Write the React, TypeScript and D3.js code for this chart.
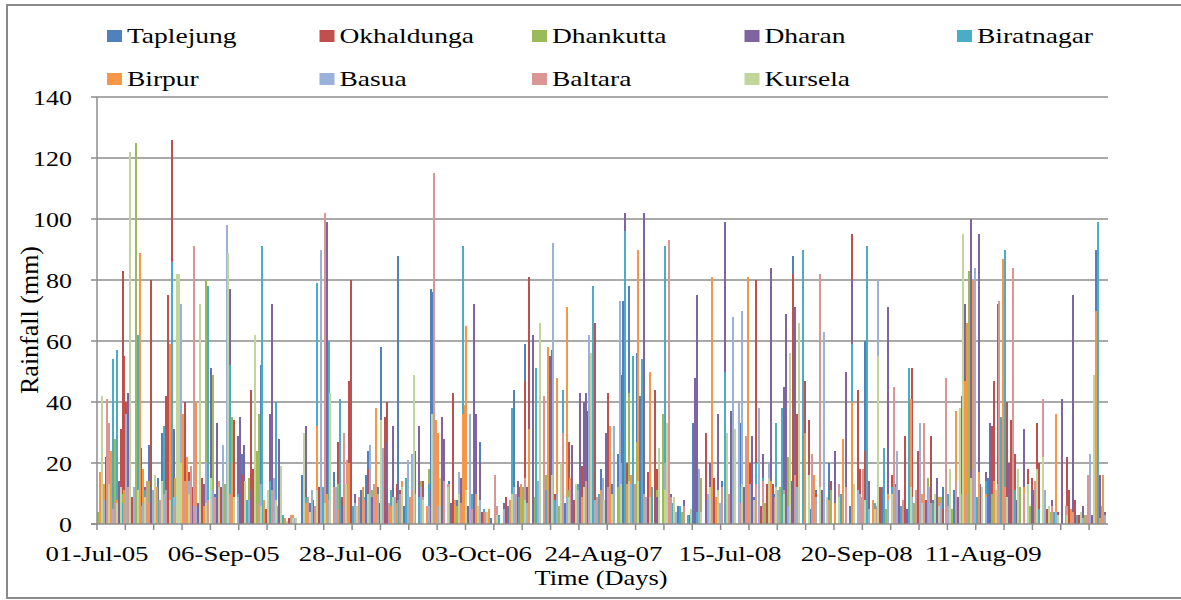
import * as d3 from 'd3';

// monsoon window used in the source: 1 Jul - 15 Oct of each year
const seasonYears = [2005, 2006, 2007, 2008, 2009];
const seriesNames = ['Taplejung', 'Okhaldunga', 'Dhankutta', 'Dharan', 'Biratnagar', 'Birpur', 'Basua', 'Baltara', 'Kursela'];
const seriesColors = ['#4F81BD', '#C0504D', '#9BBB59', '#8064A2', '#4BACC6', '#F79646', '#9AB1DA', '#D99694', '#C2D69B'];
const yTicks = [0, 20, 40, 60, 80, 100, 120, 140];
const labelEvery = 67;
const tickEvery = 15;

// [day index, rainfall mm] - days not listed are 0
const taplejung = [[3,5],[11,9],[20,7],[27,26],[29,6],[34,30],[40,13],[44,9],[48,8],[57,73],[62,10],[69,12],[76,23],[85,21],[86,52],[93,14],[94,27],
  [108,16],[112,7],[125,17],[128,33],[130,7],[137,5],[142,16],[143,24],[148,12],[150,58],[155,10],[159,88],[164,19],[168,24],[176,77],[177,76],[183,23],[190,8],[202,27],
  [220,44],[226,59],[230,36],[236,25],[243,10],[250,12],[255,9],[260,8],[266,18],[269,6],[275,23],[278,73],[281,78],[285,56],[287,42],[292,15],[299,14],[307,6],[315,33],[317,39],
  [330,14],[333,18],[340,33],[343,13],[347,9],[352,20],[358,10],[362,16],[368,88],[374,22],[380,11],[387,20],[392,4],[406,60],[415,12],[422,13],
  [431,18],[442,8],[453,11],[457,42],[461,30],[466,25],[471,15],[479,20],[496,10],[505,4],[510,6],[528,90],
  [1,4],[6,8],[14,12],[18,3],[24,6],[32,15],[38,5],[51,4],[55,11],[60,7],[66,3],[72,9],[80,6],[89,4],[98,2],[103,1],[114,5],[119,9],[133,6],[139,11],
  [146,4],[152,8],[162,6],[171,10],[180,5],[186,14],[195,7],[205,3],[208,2],[217,6],[223,12],[233,9],[240,16],[247,7],[258,11],[263,5],[272,13],[289,7],
  [295,10],[303,4],[312,3],[326,8],[336,6],[350,12],[355,4],[365,7],[371,15],[377,5],[384,9],[398,6],[402,3],[410,7],[425,5],[435,9],[438,4],[447,12],
  [450,3],[462,7],[475,11],[484,5],[490,9],[500,4],[515,2],[520,3],[533,2]];
const okhaldunga = [[5,6],[12,31],[13,83],[14,55],[15,40],[22,56],[23,25],[28,80],[30,9],[36,42],[37,75],[39,126],[46,40],[48,17],[55,15],[65,12],[72,34],[81,44],[82,18],[87,24],[89,5],
  [117,12],[127,27],[133,47],[134,80],[146,10],[152,35],[153,40],[158,13],[163,9],[172,14],[188,43],[193,24],[198,8],[210,6],
  [222,11],[226,47],[228,81],[230,29],[238,58],[249,27],[259,37],[263,66],[270,43],[273,12],[280,20],[283,36],[289,47],[291,17],[295,44],[296,18],[305,5],
  [322,30],[326,15],[337,12],[343,17],[348,80],[354,13],[360,9],[366,30],[368,82],[370,36],[374,47],[376,34],[384,12],[394,7],[399,95],[402,44],[403,18],[406,24],[418,33],[420,16],[427,29],
  [431,51],[434,24],[441,29],[447,5],[454,16],[466,30],[473,32],[474,47],[481,40],[483,34],[485,23],[492,18],[494,15],[497,33],[498,20],[513,22],[514,11],[519,3],[521,6],
  [2,5],[8,14],[18,9],[26,11],[33,6],[42,8],[50,12],[58,20],[63,7],[68,5],[76,16],[85,9],[93,6],[101,2],[110,8],[114,4],[121,15],[129,9],[138,5],[143,18],
  [149,7],[160,11],[167,6],[179,13],[185,8],[191,5],[203,4],[216,9],[219,6],[234,14],[242,10],[252,8],[256,19],[267,7],[276,12],[286,9],[299,6],[310,3],
  [324,11],[330,7],[340,9],[345,20],[351,6],[357,13],[362,8],[380,10],[388,14],[392,5],[410,7],[414,12],[424,9],[438,8],[444,12],[450,6],[458,10],
  [462,14],[470,7],[478,11],[488,9],[502,5],[508,4],[517,8],[526,2],[531,3]];
const dhankutta = [[9,28],[17,10],[20,125],[30,5],[44,12],[52,8],[57,80],[61,49],[71,35],[84,24],[85,36],[95,6],
  [123,8],[140,6],[150,12],[167,10],[175,18],[177,35],[185,9],[194,35],
  [240,10],[253,13],[262,9],[275,12],[281,43],[285,27],[292,20],[299,36],[319,15],
  [330,10],[339,11],[350,15],[358,8],[365,22],[382,68],[410,6],[422,12],
  [439,15],[440,12],[457,10],[461,83],[470,9],[477,36],[488,12],[500,8],[527,30],
  [0,4],[5,7],[13,10],[23,6],[27,14],[36,9],[40,5],[48,11],[64,7],[67,13],[75,8],[80,15],[88,6],[92,9],[102,2],[111,5],[118,9],[127,13],[133,7],[145,11],
  [156,8],[160,5],[171,14],[181,10],[190,6],[199,9],[207,3],[218,7],[225,12],[231,9],[237,16],[244,6],[249,11],[258,15],[266,8],[270,10],[279,13],[288,9],
  [296,11],[303,6],[309,4],[323,9],[327,5],[335,14],[344,9],[353,7],[361,12],[369,10],[374,16],[378,8],[388,11],[396,6],[404,9],[417,5],[426,4],[432,7],
  [446,9],[452,5],[464,14],[473,10],[480,12],[485,7],[493,6],[504,4],[512,5],[522,3],[531,6]];
const dharan = [[4,22],[16,43],[21,43],[25,12],[40,31],[53,7],[60,51],[63,33],[66,10],[70,77],[74,29],[75,35],[77,26],[91,36],[92,72],[96,28],
  [110,32],[121,99],[123,12],[145,9],[153,27],[156,32],[161,14],[167,33],[170,32],[182,35],[183,28],[199,72],[200,36],[202,20],
  [215,7],[222,14],[224,8],[230,62],[239,55],[240,57],[251,26],[255,43],[257,40],[258,43],[260,15],[269,30],[277,49],[279,102],[289,102],[293,12],[303,10],[310,8],[316,48],[317,75],
  [324,20],[328,36],[332,99],[335,37],[339,26],[346,29],[350,10],[352,23],[356,84],[362,35],[363,45],[364,69],[369,71],[378,22],[390,24],[396,50],[399,80],[408,14],[418,71],[424,11],
  [444,15],[459,72],[462,100],[466,95],[470,17],[472,33],[476,72],[482,20],[490,31],[500,10],[505,8],[510,41],[516,75],[521,6],[530,16],
  [1,9],[7,6],[11,14],[19,8],[28,12],[33,5],[45,10],[50,6],[56,13],[68,9],[81,11],[86,7],[99,2],[104,1],[114,8],[118,14],[129,6],[136,10],[141,5],[150,13],
  [165,9],[176,11],[187,7],[192,15],[196,6],[206,4],[219,9],[227,12],[234,7],[245,10],[264,8],[273,14],[283,11],[296,9],[300,7],[313,3],[322,8],[342,12],
  [357,10],[367,14],[373,9],[383,11],[387,6],[404,9],[413,7],[428,5],[433,10],[438,7],[449,12],[455,9],[467,13],[479,10],[486,8],[495,11],[512,5],[526,3],[533,4]];
const biratnagar = [[8,54],[10,57],[21,62],[29,5],[35,32],[39,86],[49,10],[58,78],[70,52],[79,8],[87,91],[94,40],
  [116,79],[122,60],[128,41],[135,6],[150,20],[163,15],[170,9],[186,12],[193,91],
  [219,38],[232,51],[246,44],[262,78],[265,10],[279,96],[283,55],[286,24],[288,54],[300,91],[308,6],[312,3],
  [325,21],[332,50],[340,12],[348,20],[359,33],[362,38],[373,90],[387,8],[399,59],[407,91],[416,25],
  [429,51],[450,10],[460,14],[478,35],[480,90],[492,6],[529,99],[533,3],
  [2,9],[5,13],[13,7],[17,19],[25,11],[32,8],[43,15],[46,6],[54,12],[62,8],[66,17],[74,10],[83,7],[91,14],[98,3],[105,1],[110,9],[119,12],[125,7],[132,14],
  [141,9],[147,5],[155,11],[159,8],[175,13],[181,7],[198,10],[204,5],[212,3],[223,9],[228,14],[237,11],[242,8],[254,13],[270,9],[276,15],[293,12],[297,8],
  [304,7],[317,4],[328,10],[336,13],[345,9],[352,15],[366,11],[370,7],[379,13],[384,8],[393,10],[411,7],[420,12],[425,6],[437,10],[442,7],[456,12],[465,9],
  [470,14],[485,11],[490,7],[498,5],[506,4],[518,3]];
const birpur = [[1,17],[3,13],[7,24],[17,37],[22,89],[24,18],[31,12],[38,59],[45,36],[47,22],[52,40],[64,14],[71,20],[83,10],[97,5],[99,2],
  [116,32],[133,20],[138,8],[140,12],[144,26],[147,38],[155,6],[161,14],[168,10],[179,34],[180,30],[193,36],[194,39],[195,65],
  [228,31],[238,58],[243,48],[248,71],[253,8],[260,14],[271,32],[277,20],[286,90],[292,50],[303,8],[305,8],
  [325,81],[330,11],[340,6],[344,81],[352,12],[366,25],[374,30],[384,12],[394,28],[399,40],[410,8],
  [430,41],[445,9],[454,37],[459,47],[460,66],[463,80],[479,87],[490,12],[507,36],[528,70],[532,16],
  [10,8],[14,11],[27,7],[34,9],[41,15],[56,6],[60,10],[68,7],[78,13],[88,8],[93,12],[103,3],[110,7],[121,10],[127,5],[131,9],[150,11],[158,7],[165,9],
  [174,6],[185,13],[189,8],[200,10],[207,5],[218,8],[224,13],[233,6],[250,15],[256,9],[266,11],[280,13],[282,16],[297,10],[300,7],[310,5],[327,9],[336,12],
  [348,9],[356,14],[360,8],[371,11],[379,16],[390,7],[404,9],[418,10],[426,6],[436,10],[441,7],[451,12],[466,17],[470,10],[474,14],[484,9],[496,6],[503,4],
  [515,5],[524,3]];
const basua = [[15,36],[29,11],[35,10],[44,72],[57,20],[66,26],[68,98],[80,8],[93,15],
  [118,90],[126,12],[144,26],[151,25],[164,21],[166,23],[175,6],[191,17],[197,36],
  [241,92],[243,10],[260,62],[267,15],[273,32],[276,73],[300,20],
  [318,18],[336,68],[339,40],[341,70],[350,38],[355,20],[370,12],[384,63],[396,5],[413,80],[423,24],
  [435,33],[450,6],[464,84],[496,14],[501,11],[525,23],[533,3],
  [3,8],[8,5],[19,12],[24,7],[40,9],[48,14],[52,6],[61,11],[74,9],[86,13],[97,4],[104,2],[109,6],[113,11],[122,8],[131,13],[136,7],[148,10],[157,9],
  [171,12],[180,6],[186,11],[202,8],[215,5],[220,12],[227,7],[233,14],[248,9],[254,11],[263,8],[282,13],[290,9],[297,6],[306,4],[323,10],[329,7],[345,13],
  [360,11],[365,6],[376,14],[380,9],[392,7],[402,11],[408,5],[418,8],[431,9],[440,12],[446,7],[458,11],[470,9],[476,13],[480,10],[490,8],[507,4],[513,6],[521,2]];
const baltara = [[5,41],[6,33],[26,14],[33,8],[49,19],[51,91],[62,9],[78,5],
  [120,102],[130,30],[132,21],[138,9],[160,10],[178,115],[186,13],[210,16],[211,6],
  [236,42],[246,30],[258,14],[270,12],[289,10],[301,23],[302,93],[303,9],
  [334,10],[343,29],[352,14],[371,50],[378,23],[382,82],[396,12],[405,18],[421,45],
  [437,33],[449,48],[460,10],[477,73],[484,84],[496,14],[500,41],[512,6],[523,3],[524,16],
  [9,7],[16,12],[21,9],[36,11],[41,6],[46,14],[58,8],[70,10],[85,7],[92,11],[102,3],[111,9],[115,6],[125,12],[141,8],[146,13],[154,7],[166,11],[172,9],
  [183,14],[192,7],[198,5],[205,4],[221,10],[226,15],[240,8],[250,12],[264,9],[276,11],[284,13],[292,8],[297,15],[310,6],[325,9],[330,12],[340,7],[348,13],
  [358,9],[363,11],[369,16],[387,8],[392,13],[403,10],[412,6],[426,8],[433,11],[441,7],[454,14],[463,18],[468,9],[480,12],[490,10],[505,6],[516,4],[530,2]];
const kursela = [[2,42],[12,12],[17,122],[25,9],[34,14],[42,82],[43,82],[44,20],[54,72],[60,15],[69,89],[83,62],[90,11],[97,19],[100,1],[105,2],
  [109,30],[112,4],[123,43],[150,34],[167,49],[177,36],[185,12],[191,10],[201,6],
  [234,66],[245,20],[253,13],[261,56],[268,8],[281,14],[297,25],[301,33],[305,9],
  [324,12],[333,30],[337,31],[355,15],[366,56],[371,66],[382,12],[392,9],[411,5],[413,55],
  [445,6],[451,18],[456,38],[458,95],[468,12],[487,18],[497,18],[500,22],[508,3],[527,49],
  [6,13],[10,7],[21,11],[30,16],[38,8],[48,10],[57,7],[64,12],[72,9],[78,14],[86,6],[94,8],[103,2],[116,11],[120,7],[131,13],[137,6],[143,10],[156,9],
  [161,12],[172,8],[181,15],[195,11],[206,4],[211,3],[219,10],[226,8],[240,16],[249,9],[257,12],[272,10],[277,13],[286,14],[292,9],[300,11],[314,5],[319,4],
  [328,11],[341,13],[347,8],[359,12],[363,10],[376,16],[386,9],[400,13],[406,8],[420,10],[430,12],[436,7],[443,10],[462,15],[475,11],[481,9],[492,13],
  [503,6],[513,3],[520,4]];

const seriesData = [taplejung, okhaldunga, dhankutta, dharan, biratnagar, birpur, basua, baltara, kursela];

const W = 1181, H = 600;
const FONT = '"Liberation Serif", "Times New Roman", serif';

export default function App() {
  const fmt = d3.timeFormat('%d-%b-%y');
  const days = seasonYears.flatMap((yr) => d3.timeDay.range(new Date(yr, 6, 1), new Date(yr, 9, 16)));
  const categories = days.map((d) => fmt(d));
  const idx = categories.map((_, i) => i);

  const x = d3.scaleBand<number>().domain(idx).range([97, 1108]).padding(0);
  const y = d3.scaleLinear().domain([0, 140]).range([524, 97]);

  // one value per day per station (max if a day was listed twice)
  const values = seriesData.map((s) => {
    const v = new Array(categories.length).fill(0);
    s.forEach(([d, mm]) => { v[d] = Math.max(v[d], mm); });
    return v;
  });

  const tickIdx = idx.filter((i) => i % tickEvery === 0);
  const labelIdx = idx.filter((i) => i % labelEvery === 0);

  return (
    <svg width={W} height={H} style={{ position: 'absolute', left: 0, top: 0, background: '#fff' }}>
      <rect x={7} y={5} width={1190} height={593} fill="#fff" stroke="#8a8a8a" strokeWidth={2} />

      {/* gridlines */}
      {yTicks.filter((t) => t > 0).map((t) => (
        <line key={t} x1={97} x2={1108} y1={y(t)} y2={y(t)} stroke="#8c8c8c" strokeWidth={1.5} />
      ))}

      {/* bars, overlapping inside each day like the source chart */}
      <g shapeRendering="crispEdges">
        {values.map((v, si) => (
          <g key={seriesNames[si]} fill={seriesColors[si]}>
            {v.map((mm, d) => mm > 0 ? (
              <rect key={d} x={x(d)} y={y(mm)} width={2} height={y(0) - y(mm)} />
            ) : null)}
          </g>
        ))}
      </g>

      {/* axes */}
      <line x1={97} x2={97} y1={97} y2={524} stroke="#8c8c8c" strokeWidth={1.5} />
      <line x1={91} x2={1108} y1={524} y2={524} stroke="#8c8c8c" strokeWidth={1.5} />
      {yTicks.map((t) => (
        <line key={'yt' + t} x1={91} x2={97} y1={y(t)} y2={y(t)} stroke="#8c8c8c" strokeWidth={1.5} />
      ))}
      {tickIdx.map((i) => (
        <line key={'xt' + i} x1={x(i)} x2={x(i)} y1={524} y2={530} stroke="#8c8c8c" strokeWidth={1.5} />
      ))}

      {/* y tick labels */}
      {yTicks.map((t) => (
        <text key={'yl' + t} transform={`translate(72,${y(t) + 8}) scale(1.3,1)`} textAnchor="end"
          fontFamily={FONT} fontSize={20} fill="#000">{t}</text>
      ))}

      {/* x tick labels */}
      {labelIdx.map((i) => (
        <text key={'xl' + i} transform={`translate(${x(i)},561) scale(1.28,1)`} textAnchor="middle"
          fontFamily={FONT} fontSize={21} fill="#000">{categories[i]}</text>
      ))}

      {/* axis titles */}
      <text transform="translate(601,585) scale(1.2,1)" textAnchor="middle" fontFamily={FONT} fontSize={22}>Time (Days)</text>
      <text transform="translate(38,320) rotate(-90)" textAnchor="middle" fontFamily={FONT} fontSize={26}>Rainfall (mm)</text>

      {/* legend */}
      {seriesNames.map((n, i) => {
        const col = i < 5 ? i : i - 5;
        const row = i < 5 ? 0 : 1;
        const lx = 107 + col * 212.5;
        const ly = row === 0 ? 43 : 86;
        return (
          <g key={n}>
            <rect x={lx} y={ly - 13} width={15} height={12} fill={seriesColors[i]} />
            <text transform={`translate(${lx + 20},${ly}) scale(1.25,1)`} fontFamily={FONT} fontSize={22} fill="#000">{n}</text>
          </g>
        );
      })}
    </svg>
  );
}
